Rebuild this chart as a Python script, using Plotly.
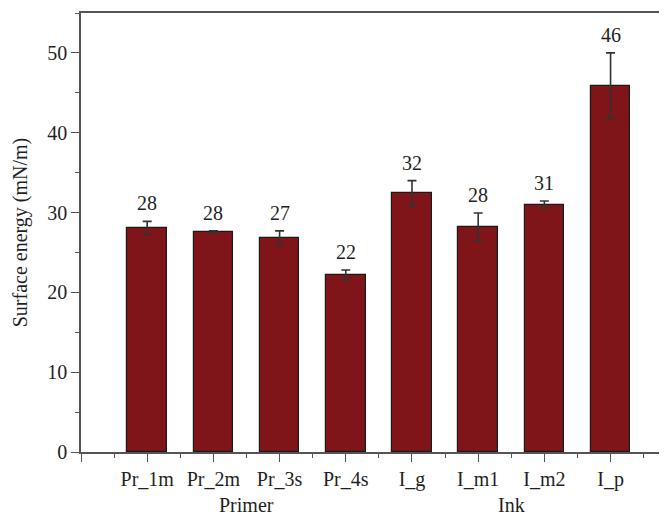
import plotly.graph_objects as go

categories = ["Pr_1m", "Pr_2m", "Pr_3s", "Pr_4s", "I_g", "I_m1", "I_m2", "I_p"]
values = [28.05, 27.55, 26.85, 22.2, 32.4, 28.2, 31.0, 45.9]
errors = [0.85, 0.15, 0.85, 0.6, 1.6, 1.75, 0.45, 4.1]
value_labels = ["28", "28", "27", "22", "32", "28", "31", "46"]
groups = ["Primer", "Ink"]
group_members = [[1, 2, 3, 4], [5, 6, 7, 8]]
y_title = "Surface energy (mN/m)"

positions = list(range(1, len(categories) + 1))
FONT = "Liberation Serif"
FS = 20
TXT = "#1f1f1f"
AXC = "#555555"

fig = go.Figure()
fig.add_trace(go.Bar(
    x=positions, y=values, width=0.6,
    marker=dict(color="#7f1518", line=dict(color="#1a1a1a", width=1.2)),
    error_y=dict(type="data", array=errors, visible=True, color="#333333",
                 thickness=1.6, width=4.5),
    showlegend=False,
))

for p, v, e, t in zip(positions, values, errors, value_labels):
    fig.add_annotation(x=p, y=v + e, text=t, showarrow=False, xref="x", yref="y",
                       yanchor="middle", yshift=18,
                       font=dict(family=FONT, size=FS, color=TXT))

for g, mem in zip(groups, group_members):
    fig.add_annotation(x=sum(mem) / len(mem), y=0, xref="x", yref="paper",
                       text=g, showarrow=False, yanchor="middle", yshift=-53,
                       font=dict(family=FONT, size=FS, color=TXT))

# page body has an 8px default margin; compensate so the plot sits where the reference has it
OFF = 8
W, H = 667 - OFF, 517 - OFF
L, T, B = 80.7 - OFF, 13 - OFF, 65.3
spacing = 66.23
xmax = (W - L) / spacing

fig.update_layout(
    width=W, height=H,
    margin=dict(l=L, r=0, t=T, b=B, autoexpand=False),
    plot_bgcolor="white", paper_bgcolor="white",
    font=dict(family=FONT, size=FS, color=TXT),
    bargap=0,
)
fig.update_xaxes(
    range=[0, xmax], tickmode="array",
    tickvals=list(range(0, len(categories) + 2)),
    ticktext=[""] + categories + [""],
    showline=True, linecolor=AXC, linewidth=1.5, mirror=True,
    ticks="outside", ticklen=8, tickwidth=1.3, tickcolor=AXC,
    minor=dict(tickvals=[i + 0.5 for i in range(0, len(categories) + 1)],
               ticks="outside", ticklen=4, tickwidth=1.3, tickcolor=AXC),
    showgrid=False, zeroline=False,
    tickfont=dict(family=FONT, size=FS, color=TXT),
)
fig.update_yaxes(
    range=[0, 55], tickmode="linear", tick0=0, dtick=10,
    showline=True, linecolor=AXC, linewidth=1.5, mirror=False,
    ticks="outside", ticklen=8, tickwidth=1.3, tickcolor=AXC,
    minor=dict(tick0=5, dtick=10, ticks="outside", ticklen=4, tickwidth=1.3, tickcolor=AXC),
    showgrid=False, zeroline=False,
    title=dict(text=y_title, font=dict(family=FONT, size=FS, color=TXT), standoff=14),
    tickfont=dict(family=FONT, size=FS, color=TXT),
)

fig.write_html("out.html")
